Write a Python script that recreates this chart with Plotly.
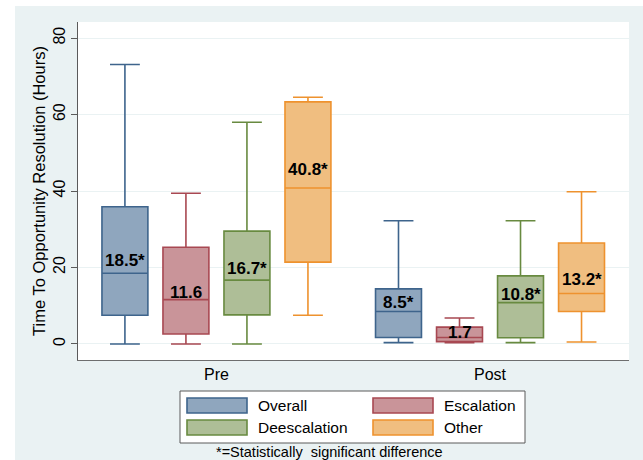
import plotly.graph_objects as go

# Summary statistics per period and opportunity type (hours)
periods = ["Pre", "Post"]
series = ["Overall", "Escalation", "Deescalation", "Other"]

lower = {
    "Overall": [0.0, 0.35],
    "Escalation": [0.0, 0.35],
    "Deescalation": [0.0, 0.35],
    "Other": [7.5, 0.5],
}
q1 = {
    "Overall": [7.5, 1.7],
    "Escalation": [2.6, 0.6],
    "Deescalation": [7.6, 1.6],
    "Other": [21.4, 8.5],
}
median = {
    "Overall": [18.5, 8.5],
    "Escalation": [11.6, 1.7],
    "Deescalation": [16.7, 10.8],
    "Other": [40.8, 13.2],
}
q3 = {
    "Overall": [35.9, 14.4],
    "Escalation": [25.3, 4.4],
    "Deescalation": [29.5, 17.8],
    "Other": [63.3, 26.4],
}
upper = {
    "Overall": [73.1, 32.2],
    "Escalation": [39.4, 6.8],
    "Deescalation": [58.0, 32.2],
    "Other": [64.5, 39.8],
}
significant = {
    "Overall": [True, True],
    "Escalation": [False, False],
    "Deescalation": [True, True],
    "Other": [True, True],
}
yticks = [0, 20, 40, 60, 80]
footnote = "*=Statistically  significant difference"
ytitle = "Time To Opportunity Resolution (Hours)"

fills = {
    "Overall": "rgb(143,166,190)",
    "Escalation": "rgb(201,148,153)",
    "Deescalation": "rgb(174,190,151)",
    "Other": "rgb(240,190,128)",
}
edges = {
    "Overall": "rgb(62,100,140)",
    "Escalation": "rgb(168,72,82)",
    "Deescalation": "rgb(104,138,64)",
    "Other": "rgb(238,146,46)",
}
# vertical nudge (px) of each value label above its median line
label_shift = {
    "Overall": [13, 9],
    "Escalation": [7, 5],
    "Deescalation": [12, 8],
    "Other": [18, 14],
}

FONT = "Arial, Liberation Sans, sans-serif"
W, H = 643, 460
ML, MR, MT, MB = 78, 14, 22, 100
PW, PH = W - ML - MR, H - MT - MB

def px_x(p):
    return (p - ML) / PW

def px_y(p):
    return (H - MB - p) / PH

fig = go.Figure()
for s in series:
    fig.add_trace(go.Box(
        name=s,
        x=periods,
        lowerfence=lower[s],
        q1=q1[s],
        median=median[s],
        q3=q3[s],
        upperfence=upper[s],
        boxpoints=False,
        fillcolor=fills[s],
        line=dict(color=edges[s], width=1.6),
        whiskerwidth=0.65,
        showlegend=False,
        hoverinfo="skip",
    ))

# value labels
step = 0.223
annotations = []
for i, s in enumerate(series):
    for j, p in enumerate(periods):
        txt = f"{median[s][j]:.1f}" + ("*" if significant[s][j] else "")
        annotations.append(dict(
            x=j + (i - 1.5) * step, y=median[s][j], xref="x", yref="y",
            text=f"<b>{txt}</b>", showarrow=False, yshift=label_shift[s][j],
            font=dict(family=FONT, size=17, color="black"),
        ))

shapes = [
    # outer panel
    dict(type="rect", xref="paper", yref="paper", layer="below",
         x0=px_x(15), x1=px_x(643), y0=px_y(460), y1=px_y(6),
         fillcolor="rgb(234,242,243)", line=dict(width=0)),
    # plot region
    dict(type="rect", xref="paper", yref="paper", layer="below",
         x0=0, x1=1, y0=0, y1=1,
         fillcolor="white", line=dict(width=0)),
    # legend frame
    dict(type="rect", xref="paper", yref="paper",
         x0=px_x(180), x1=px_x(525), y0=px_y(443), y1=px_y(391),
         fillcolor="white", line=dict(color="rgb(90,90,90)", width=1)),
]

# legend entries
legend_pos = [(187, 398), (373, 398), (187, 420), (373, 420)]
for s, (lx, ly) in zip(series, legend_pos):
    shapes.append(dict(
        type="rect", xref="paper", yref="paper",
        x0=px_x(lx), x1=px_x(lx + 60), y0=px_y(ly + 15), y1=px_y(ly),
        fillcolor=fills[s], line=dict(color=edges[s], width=1.6),
    ))
    annotations.append(dict(
        x=px_x(lx + 69), y=px_y(ly + 7.5), xref="paper", yref="paper",
        text=s, showarrow=False, xanchor="left", yanchor="middle",
        font=dict(family=FONT, size=15.5, color="black"),
    ))

annotations.append(dict(
    x=px_x(214), y=px_y(452), xref="paper", yref="paper",
    text=footnote, showarrow=False, xanchor="left", yanchor="middle",
    font=dict(family=FONT, size=14.5, color="black"),
))

fig.update_layout(
    width=W, height=H,
    margin=dict(l=ML, r=MR, t=MT, b=MB, pad=0),
    paper_bgcolor="white",
    plot_bgcolor="white",
    boxmode="group",
    boxgap=0.108,
    boxgroupgap=0.247,
    shapes=shapes,
    annotations=annotations,
    font=dict(family=FONT, size=14, color="black"),
)
fig.update_xaxes(
    type="category", range=[-0.506, 1.508],
    showline=True, linecolor="rgb(110,110,110)", linewidth=1.2,
    ticks="", showgrid=False, zeroline=False,
    tickfont=dict(family=FONT, size=16, color="black"),
)
fig.update_yaxes(
    range=[-4.2, 84.2], tickvals=yticks,
    showline=True, linecolor="rgb(90,90,90)", linewidth=1.2,
    ticks="outside", ticklen=6, tickcolor="rgb(90,90,90)",
    tickangle=-90,
    showgrid=True, gridcolor="rgb(234,242,243)", gridwidth=1.2,
    zeroline=False,
    tickfont=dict(family=FONT, size=16, color="black"),
    title=dict(text=ytitle, font=dict(family=FONT, size=16.5, color="black"),
               standoff=0),
)

fig.write_html("out.html")
